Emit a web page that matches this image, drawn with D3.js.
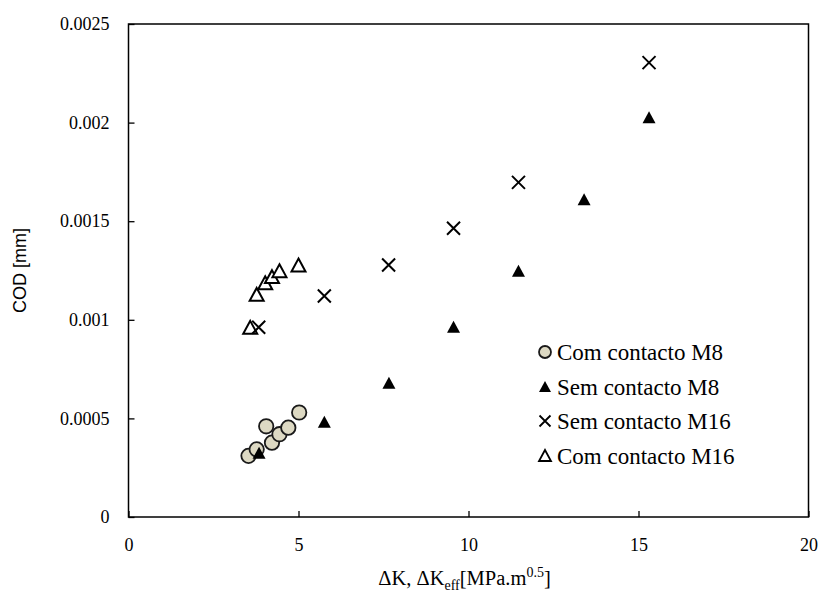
<!DOCTYPE html>
<html lang="en">
<head>
  <meta charset="UTF-8">
  <title>cod-vs-dk</title>
  <script src="https://cdn.jsdelivr.net/npm/d3@7"></script>
  <style>
    body { margin: 0; background: #fff; }
    svg text { font-family: "Liberation Serif", "Times New Roman", Tinos, "DejaVu Serif", serif; fill: #000; }
    svg text.sans { font-family: "Liberation Sans", Arial, Arimo, sans-serif; }
  </style>
</head>
<body>
<script>
// data: [dK, COD]
let comM8 = [[3.53, 0.00031], [3.77, 0.000343], [4.05, 0.00046], [4.22, 0.000377],
  [4.44, 0.00042], [4.70, 0.000453], [5.02, 0.00053]];
let semM8 = [[3.84, 0.000326], [5.76, 0.000483], [7.66, 0.000681], [9.56, 0.000965],
  [11.47, 0.001249], [13.40, 0.001611], [15.31, 0.002027]];
let semM16 = [[3.83, 0.000962], [5.76, 0.001121], [7.65, 0.001278], [9.56, 0.001464],
  [11.47, 0.001697], [15.31, 0.002304]];
let comM16 = [[3.58, 0.000962], [3.77, 0.001129], [4.02, 0.001188], [4.22, 0.001219],
  [4.44, 0.001249], [5.0, 0.001278]];

let xTicks = [0, 5, 10, 15, 20];
let yTicks = [0, 0.0005, 0.001, 0.0015, 0.002, 0.0025];
let seriesNames = ['Com contacto M8', 'Sem contacto M8', 'Sem contacto M16', 'Com contacto M16'];

let width = 824;
let height = 599;
let plotL = 128.5, plotR = 808.5, plotT = 24, plotB = 517;

let svg = d3.select('body')
  .append('svg')
  .attr('width', width)
  .attr('height', height);

let x = d3.scaleLinear().domain([0, 20]).range([plotL, plotR]);
let y = d3.scaleLinear().domain([0, 0.0025]).range([plotB, plotT]);

// frame
svg.append('rect')
  .attr('x', plotL)
  .attr('y', plotT)
  .attr('width', plotR - plotL)
  .attr('height', plotB - plotT)
  .attr('fill', 'none')
  .attr('stroke', '#000')
  .attr('stroke-width', 1.5);

let xAxis = d3.axisBottom(x)
  .tickValues(xTicks)
  .tickFormat(d3.format('d'))
  .tickSizeInner(-6)
  .tickSizeOuter(0)
  .tickPadding(21);

svg.append('g')
  .attr('class', 'x-axis')
  .attr('transform', 'translate(0,' + plotB + ')')
  .call(xAxis);

let yAxis = d3.axisLeft(y)
  .tickValues(yTicks)
  .tickFormat(d => d === 0 ? '0' : String(+d.toFixed(4)))
  .tickSizeInner(-6)
  .tickSizeOuter(0)
  .tickPadding(19);

svg.append('g')
  .attr('class', 'y-axis')
  .attr('transform', 'translate(' + plotL + ',0)')
  .call(yAxis);

svg.selectAll('.domain').remove();
svg.selectAll('.tick line').attr('stroke', '#000').attr('stroke-width', 1.3);
svg.selectAll('.tick text')
  .style('font-size', '18px')
  .attr('fill', '#000');
svg.selectAll('.x-axis .tick text').attr('dy', '0.71em');

// axis titles
svg.append('text')
  .attr('class', 'sans')
  .attr('transform', 'translate(20,' + ((plotT + plotB) / 2) + ') rotate(-90)')
  .attr('text-anchor', 'middle')
  .attr('dy', '0.35em')
  .style('font-size', '18px')
  .text('COD [mm]');

let xt = svg.append('text')
  .attr('x', (plotL + plotR) / 2 - 4)
  .attr('y', 585)
  .attr('text-anchor', 'middle')
  .style('font-size', '20.5px');
xt.append('tspan').text('\u0394K, \u0394K');
xt.append('tspan').attr('dy', 5).style('font-size', '14px').text('eff');
xt.append('tspan').attr('dy', -5).text('[MPa.m');
xt.append('tspan').attr('dy', -8).style('font-size', '14px').text('0.5');
xt.append('tspan').attr('dy', 8).text(']');

// marker shapes
function triPath(s) {
  // triangle centred on its bounding box
  let h = s * 0.92;
  return 'M0,' + (-h / 2) + 'L' + (s / 2) + ',' + (h / 2) + 'L' + (-s / 2) + ',' + (h / 2) + 'Z';
}
function crossPath(s) {
  let a = s / 2;
  return 'M' + (-a) + ',' + (-a) + 'L' + a + ',' + a + 'M' + a + ',' + (-a) + 'L' + (-a) + ',' + a;
}

function drawCircles(g, data, r) {
  g.selectAll('circle')
    .data(data)
    .join('circle')
    .attr('cx', d => x(d[0]))
    .attr('cy', d => y(d[1]))
    .attr('r', r)
    .attr('fill', '#ddd9c3')
    .attr('stroke', '#1a1a1a')
    .attr('stroke-width', 1.8);
}
function drawPaths(g, data, path, fill, stroke, sw) {
  g.selectAll('path')
    .data(data)
    .join('path')
    .attr('transform', d => 'translate(' + x(d[0]) + ',' + y(d[1]) + ')')
    .attr('d', path)
    .attr('fill', fill)
    .attr('stroke', stroke)
    .attr('stroke-width', sw);
}

drawPaths(svg.append('g'), comM16, triPath(14), '#fff', '#000', 2);
drawPaths(svg.append('g'), semM16, crossPath(13), 'none', '#000', 2);
drawCircles(svg.append('g'), comM8, 7.2);
drawPaths(svg.append('g'), semM8, triPath(13), '#000', 'none', 0);

// legend
let legY = [352, 386.5, 421, 455.5];
let legX = 545;
let leg = svg.append('g');
leg.append('circle')
  .attr('cx', legX).attr('cy', legY[0]).attr('r', 6)
  .attr('fill', '#ddd9c3').attr('stroke', '#1a1a1a').attr('stroke-width', 1.8);
leg.append('path')
  .attr('transform', 'translate(' + legX + ',' + legY[1] + ')')
  .attr('d', triPath(12)).attr('fill', '#000');
leg.append('path')
  .attr('transform', 'translate(' + legX + ',' + legY[2] + ')')
  .attr('d', crossPath(11)).attr('fill', 'none').attr('stroke', '#000').attr('stroke-width', 1.8);
leg.append('path')
  .attr('transform', 'translate(' + legX + ',' + legY[3] + ')')
  .attr('d', triPath(12)).attr('fill', '#fff').attr('stroke', '#000').attr('stroke-width', 1.8);

leg.selectAll('text')
  .data(seriesNames)
  .join('text')
  .attr('x', legX + 12)
  .attr('y', (d, i) => legY[i])
  .attr('dy', '0.35em')
  .style('font-size', '23px')
  .text(d => d);
</script>
</body>
</html>
